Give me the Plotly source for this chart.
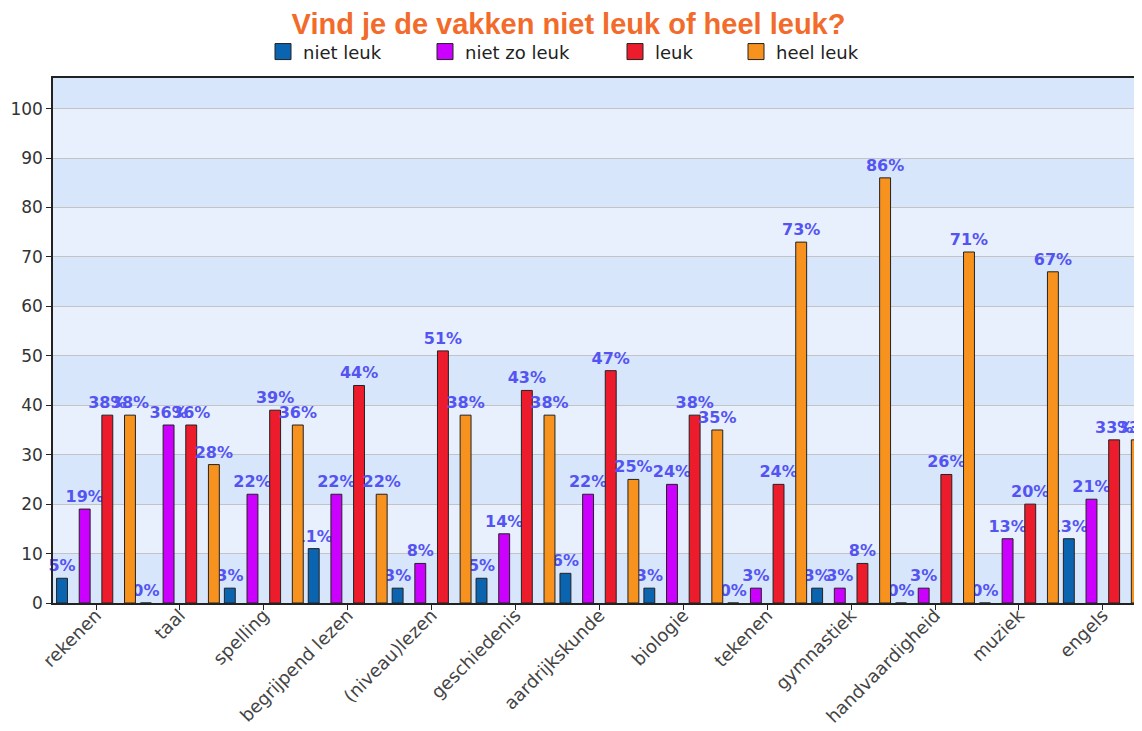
import plotly.graph_objects as go

vakken = ["rekenen", "taal", "spelling", "begrijpend lezen", "(niveau)lezen",
          "geschiedenis", "aardrijkskunde", "biologie", "tekenen", "gymnastiek",
          "handvaardigheid", "muziek", "engels"]

niet_leuk = [5, 0, 3, 11, 3, 5, 6, 3, 0, 3, 0, 0, 13]
niet_zo_leuk = [19, 36, 22, 22, 8, 14, 22, 24, 3, 3, 3, 13, 21]
leuk = [38, 36, 39, 44, 51, 43, 47, 38, 24, 8, 26, 20, 33]
heel_leuk = [38, 28, 36, 22, 38, 38, 25, 35, 73, 86, 71, 67, 33]

series = [
    ("niet leuk", niet_leuk, "#0a64b0"),
    ("niet zo leuk", niet_zo_leuk, "#cc00ff"),
    ("leuk", leuk, "#ec1c2c"),
    ("heel leuk", heel_leuk, "#f7921e"),
]

y_ticks = list(range(0, 101, 10))

# the page body adds an 8px offset, so the figure is sized to fill the window
W, H = 1134, 723
PAD = 8

fig = go.Figure()

bar_w = 0.13
centers = [-0.405, -0.135, 0.135, 0.405]
# one small legend per series so each swatch sits where the original has it
legend_ids = ["legend", "legend2", "legend3", "legend4"]
legend_px = [283, 445, 635, 756]

for (name, vals, color), c, lid in zip(series, centers, legend_ids):
    # the bars themselves
    fig.add_trace(
        go.Bar(
            x=list(range(len(vakken))),
            y=vals,
            name=name,
            width=bar_w,
            offset=c - bar_w / 2,
            marker=dict(color=color, line=dict(color="#222222", width=1)),
            texttemplate="%{y}%",
            textposition="outside",
            constraintext="none",
            cliponaxis=False,
            textfont=dict(family="DejaVu Sans", size=16, color="#5454f2",
                          weight="bold"),
            showlegend=False,
            hoverinfo="skip",
        )
    )
    # legend swatch
    fig.add_trace(
        go.Scatter(
            x=[None],
            y=[None],
            mode="markers",
            name=name,
            legend=lid,
            marker=dict(symbol="square", size=16, color=color,
                        line=dict(color="#222222", width=1)),
        )
    )

# alternating bands behind the grid
band_edges = y_ticks + [110]
for i in range(0, len(band_edges) - 1, 2):
    fig.add_shape(
        type="rect", xref="paper", yref="y",
        x0=0, x1=1, y0=band_edges[i], y1=band_edges[i + 1],
        fillcolor="#d8e6fc", line_width=0, layer="below",
    )

legend_style = dict(
    orientation="h",
    xanchor="left",
    y=1.085, yanchor="top",
    font=dict(family="DejaVu Sans", size=18, color="#222222"),
    bgcolor="rgba(0,0,0,0)",
)
for lid, px in zip(legend_ids, legend_px):
    fig.update_layout({lid: dict(legend_style, x=(px - 20 - 53) / 1089)})

fig.update_layout(
    width=W,
    height=H,
    margin=dict(l=53 - PAD, r=0, t=78 - PAD, b=136 - PAD),
    paper_bgcolor="white",
    plot_bgcolor="#e8f0fe",
    barmode="overlay",
    title=dict(
        text="Vind je de vakken niet leuk of heel leuk?",
        font=dict(family="Liberation Sans", size=29, color="#f26b2b",
                  weight="bold"),
        x=(568.5 - PAD) / W, xanchor="center", xref="container",
        y=1 - 16 / H, yanchor="middle", yref="container",
    ),
)

fig.update_xaxes(
    tickmode="array",
    tickvals=list(range(len(vakken))),
    ticktext=vakken,
    range=[-0.5125, 12.467],
    tickangle=-45,
    ticks="outside",
    ticklen=5,
    tickcolor="#222222",
    ticklabelstandoff=-12,
    tickfont=dict(family="DejaVu Sans", size=18, color="#444444"),
    showgrid=False,
    showline=True,
    linecolor="#222222",
    linewidth=1.5,
    mirror=True,
    zeroline=False,
    automargin=False,
)

fig.update_yaxes(
    range=[0, 106.2],
    tickvals=y_ticks,
    ticks="outside",
    ticklen=5,
    tickcolor="#222222",
    tickfont=dict(family="DejaVu Sans", size=17, color="#333333"),
    showgrid=True,
    gridcolor="#c4c4c4",
    gridwidth=1,
    showline=True,
    linecolor="#222222",
    linewidth=1.5,
    zeroline=False,
    automargin=False,
)

fig.write_html("out.html")
